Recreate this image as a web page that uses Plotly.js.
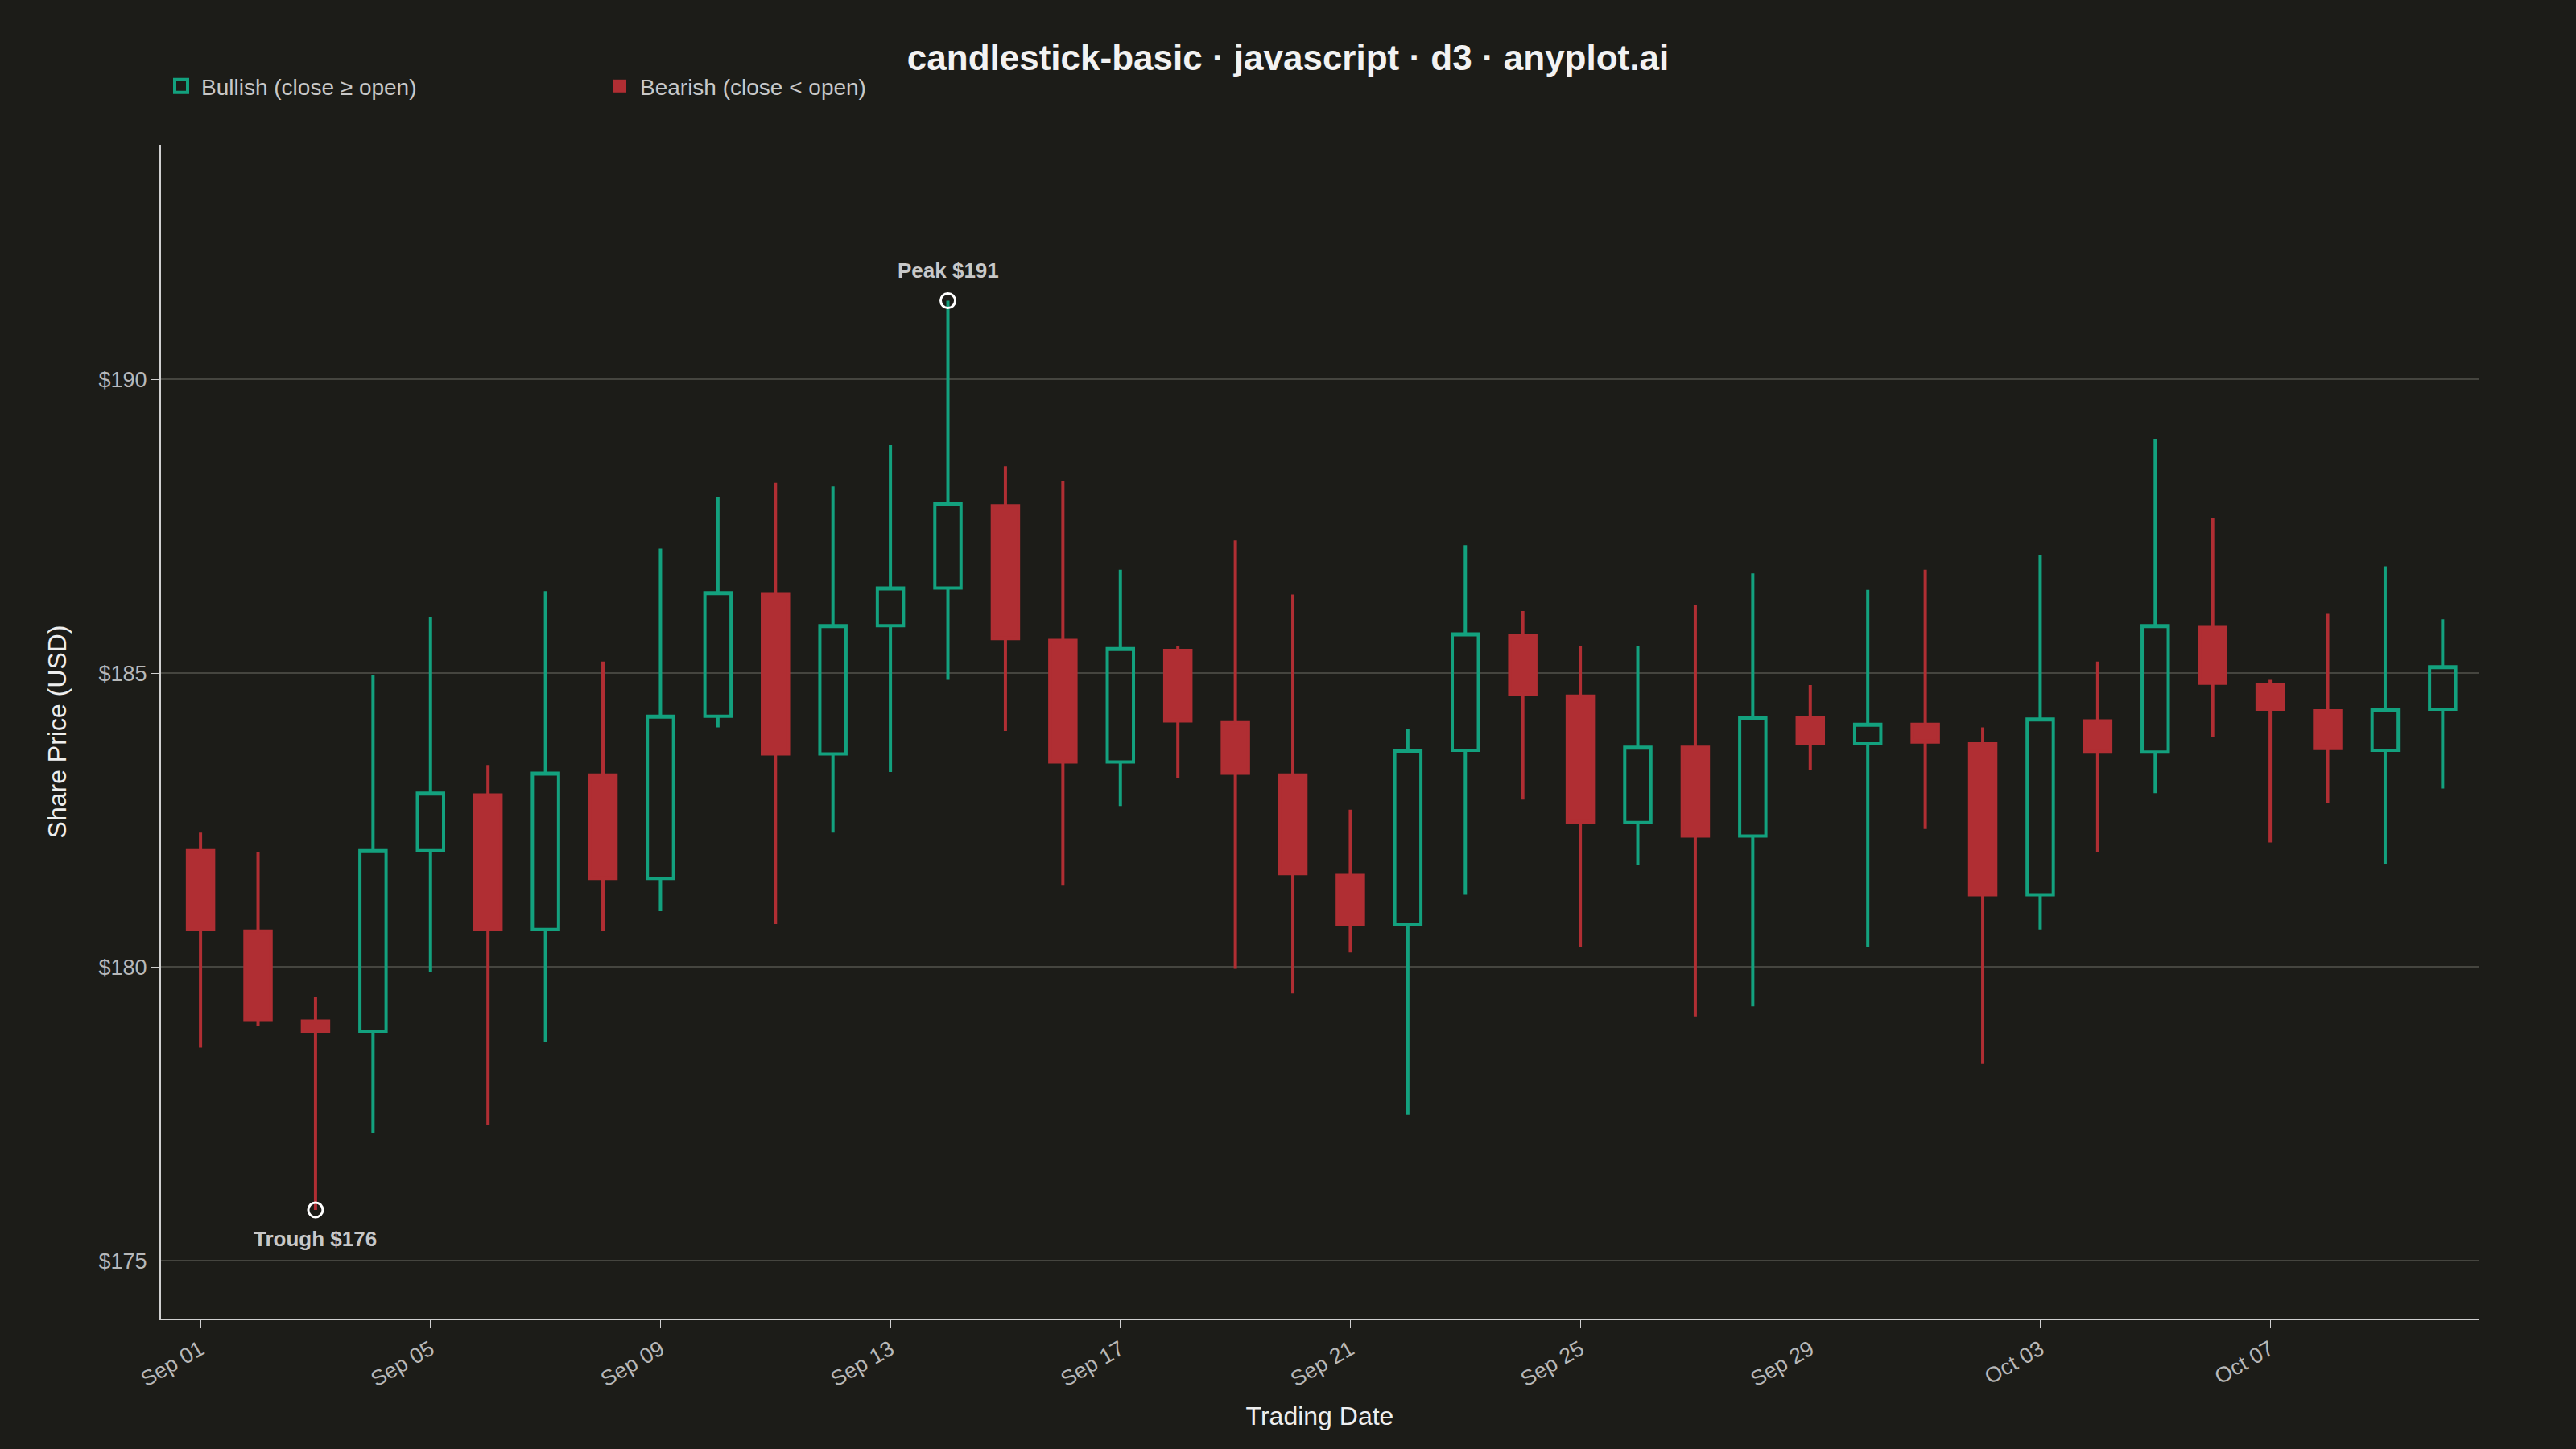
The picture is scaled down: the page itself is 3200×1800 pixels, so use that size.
<!DOCTYPE html>
<html><head><meta charset="utf-8">
<script src="https://cdn.plot.ly/plotly-3.0.1.min.js"></script>
<style>html,body{margin:0;background:#1c1c18;}</style>
</head><body><div id="chart" style="width:3200px;height:1800px;"></div>
<script>
const dates = ["2024-09-01","2024-09-02","2024-09-03","2024-09-04","2024-09-05","2024-09-06","2024-09-07","2024-09-08","2024-09-09","2024-09-10","2024-09-11","2024-09-12","2024-09-13","2024-09-14","2024-09-15","2024-09-16","2024-09-17","2024-09-18","2024-09-19","2024-09-20","2024-09-21","2024-09-22","2024-09-23","2024-09-24","2024-09-25","2024-09-26","2024-09-27","2024-09-28","2024-09-29","2024-09-30","2024-10-01","2024-10-02","2024-10-03","2024-10-04","2024-10-05","2024-10-06","2024-10-07","2024-10-08","2024-10-09","2024-10-10"];
const openP  = [181.98,180.61,179.08,178.91,181.98,182.93,180.64,183.27,181.51,184.27,186.34,183.63,185.81,186.45,187.85,185.56,183.49,185.39,184.16,183.27,181.56,180.73,183.69,185.64,184.61,182.46,183.74,182.23,184.25,183.80,184.13,183.80,181.23,184.19,183.66,185.78,184.80,184.36,183.69,184.39];
const highP  = [182.29,181.96,179.50,184.97,185.95,183.44,186.40,185.20,187.12,187.99,188.24,188.18,188.88,191.34,188.52,188.27,186.76,185.47,187.26,186.34,182.68,184.05,187.18,186.06,185.47,185.47,186.17,186.70,184.80,186.42,186.76,184.08,187.01,185.20,188.99,187.65,184.89,186.01,186.82,185.92];
const lowP   = [178.63,179.00,175.87,177.18,179.92,177.32,178.72,180.61,180.95,184.08,180.73,182.29,183.32,184.89,184.02,181.40,182.74,183.21,179.97,179.55,180.25,177.49,181.23,182.85,180.34,181.73,179.16,179.33,183.35,180.34,182.35,178.35,180.64,181.96,182.96,183.91,182.12,182.79,181.76,183.04];
const closeP = [180.64,179.11,178.91,181.98,182.96,180.64,183.30,181.51,184.27,186.37,183.63,185.81,186.45,187.88,185.59,183.49,185.42,184.19,183.30,181.59,180.73,183.69,185.67,184.64,182.46,183.74,182.23,184.25,183.80,184.13,183.83,181.23,184.22,183.66,185.81,184.83,184.39,183.72,184.39,185.11];
const tickVals = ["2024-09-01","2024-09-05","2024-09-09","2024-09-13","2024-09-17","2024-09-21","2024-09-25","2024-09-29","2024-10-03","2024-10-07"];
const tickText = ["Sep 01","Sep 05","Sep 09","Sep 13","Sep 17","Sep 21","Sep 25","Sep 29","Oct 03","Oct 07"];

const GREEN="#13a17e", RED="#b02e33", BG="#1c1c18";
function subset(pred){const o={x:[],open:[],high:[],low:[],close:[]};
  dates.forEach((d,i)=>{if(pred(i)){o.x.push(d);o.open.push(openP[i]);o.high.push(highP[i]);o.low.push(lowP[i]);o.close.push(closeP[i]);}});return o;}
const bull=subset(i=>closeP[i]>=openP[i]), bear=subset(i=>closeP[i]<openP[i]);
const traces=[
 Object.assign({type:"candlestick",name:"Bullish",showlegend:false,
  increasing:{line:{color:GREEN,width:4},fillcolor:"rgba(0,0,0,0)"},decreasing:{line:{color:GREEN,width:4},fillcolor:"rgba(0,0,0,0)"},hoverinfo:"skip"},bull),
 Object.assign({type:"candlestick",name:"Bearish",showlegend:false,
  increasing:{line:{color:RED,width:4},fillcolor:RED},decreasing:{line:{color:RED,width:4},fillcolor:RED},hoverinfo:"skip"},bear),
 {type:"scatter",mode:"markers",x:[null],y:[null],name:"Bullish (close ≥ open)",marker:{symbol:"square-open",size:34,color:GREEN,line:{width:4,color:GREEN}}},
 {type:"scatter",mode:"markers",x:[null],y:[null],name:"Bearish (close < open)",marker:{symbol:"square",size:38,color:RED}}
];
let hi=0,lo=0;highP.forEach((v,i)=>{if(v>highP[hi])hi=i;});lowP.forEach((v,i)=>{if(v<lowP[lo])lo=i;});
traces.push({type:"scatter",mode:"markers",x:[dates[hi],dates[lo]],y:[highP[hi],lowP[lo]],showlegend:false,
 marker:{symbol:"circle-open",size:18,color:"#ffffff",line:{width:3,color:"#ffffff"}},hoverinfo:"skip"});
const layout={
 width:3200,height:1800,paper_bgcolor:BG,plot_bgcolor:BG,
 font:{family:"Liberation Sans, Arial, sans-serif",color:"#c8c8c8",size:28},
 title:{text:"<b>candlestick-basic · javascript · d3 · anyplot.ai</b>",x:0.5,xanchor:"center",y:0.96,yanchor:"middle",font:{size:44,color:"#f2f2f2"}},
 margin:{l:200,r:121,t:180,b:162},
 boxgap:0.35,
 showlegend:true,
 legend:{orientation:"h",x:0.0,y:1.05,xanchor:"left",yanchor:"middle",font:{size:28,color:"#c8c8c8"},bgcolor:"rgba(0,0,0,0)",itemwidth:40,traceorder:"normal",entrywidth:490},
 xaxis:{type:"date",range:["2024-08-31 07:30","2024-10-10 15:00"],rangeslider:{visible:false},
  tickvals:tickVals,ticktext:tickText,tickangle:-30,showgrid:false,zeroline:false,
  showline:true,linecolor:"#d0d0d0",linewidth:2,ticks:"outside",ticklen:10,tickcolor:"#d0d0d0",
  tickfont:{size:27,color:"#b8b8b8"},title:{text:"Trading Date",font:{size:32,color:"#eeeeee"},standoff:20}},
 yaxis:{range:[174.02,193.99],tickvals:[175,180,185,190],ticktext:["$175","$180","$185","$190"],
  showgrid:true,gridcolor:"#45453f",gridwidth:2,zeroline:false,showline:true,linecolor:"#d0d0d0",linewidth:2,
  ticks:"outside",ticklen:10,tickcolor:"#d0d0d0",tickfont:{size:27,color:"#b8b8b8"},
  title:{text:"Share Price (USD)",font:{size:32,color:"#eeeeee"},standoff:30}},
 annotations:[
  {x:dates[hi],y:highP[hi],text:"<b>Peak $191</b>",showarrow:false,yshift:37,font:{size:26,color:"#c8c8c8"}},
  {x:dates[lo],y:lowP[lo],text:"<b>Trough $176</b>",showarrow:false,yshift:-36,font:{size:26,color:"#c8c8c8"}}
 ]
};
Plotly.newPlot("chart",traces,layout,{displayModeBar:false});
</script></body></html>
